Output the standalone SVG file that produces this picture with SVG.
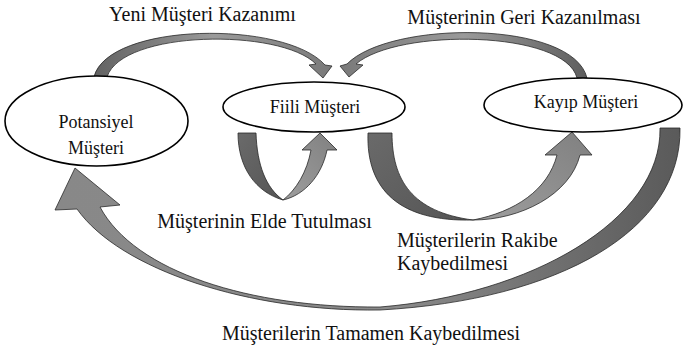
<svg xmlns="http://www.w3.org/2000/svg" width="685" height="347" viewBox="0 0 685 347">
<style>
.node{fill:#fff;stroke:#000;stroke-width:1.6}
.lbl{font-family:"Liberation Serif","Times New Roman",serif;font-size:20px;fill:#111}
.nt{font-family:"Liberation Serif","Times New Roman",serif;font-size:18px;fill:#111;text-anchor:middle}
.arr{stroke:#2a2a2a;stroke-width:0.8;stroke-linejoin:miter}
</style>
<defs>
<linearGradient id="gTop" x1="0" y1="0" x2="1" y2="0">
<stop offset="0" stop-color="#626262"/>
<stop offset="0.5" stop-color="#9a9a9a"/>
<stop offset="1" stop-color="#7a7a7a"/>
</linearGradient>
<linearGradient id="gTopR" x1="1" y1="0" x2="0" y2="0">
<stop offset="0" stop-color="#5e5e5e"/>
<stop offset="0.5" stop-color="#9a9a9a"/>
<stop offset="1" stop-color="#7a7a7a"/>
</linearGradient>
<linearGradient id="gBack" x1="0" y1="0" x2="1" y2="1">
<stop offset="0" stop-color="#6a6a6a"/>
<stop offset="1" stop-color="#555"/>
</linearGradient>
<linearGradient id="gFront" x1="0" y1="1" x2="1" y2="0">
<stop offset="0" stop-color="#9e9e9e"/>
<stop offset="1" stop-color="#808080"/>
</linearGradient>
<linearGradient id="gBig" x1="1" y1="0" x2="0" y2="0">
<stop offset="0" stop-color="#5a5a5a"/>
<stop offset="0.45" stop-color="#8a8a8a"/>
<stop offset="1" stop-color="#888"/>
</linearGradient>
</defs>
<g id="connectors">
<path id="yeni" class="arr" fill="url(#gTop)" d="M94,77 C108,22 285,20 325,65 L332,66 L323,78 L309,65 L316,64 C280,28 122,30 107,77 Z"/>
<path id="geri" class="arr" fill="url(#gTopR)" d="M587,78 C573,20 390,20 347,64 L340,66 L349,77 L363,65 L356,64 C398,28 565,30 577,78 Z"/>
<path id="elde-back" class="arr" fill="url(#gBack)" d="M238,133 L256,133 C257,165 266,188 283,200 C256,192 238,168 238,133 Z"/>
<path id="elde-front" class="arr" fill="url(#gFront)" d="M283,200 C305,195 322,175 327,150 L337,150 L320,133 L302,150 L311,150 C307,172 296,190 283,200 Z"/>
<path id="rakip-back" class="arr" fill="url(#gBack)" d="M368,133 L392,133 C392,180 412,212 473,220 C400,222 366,190 368,133 Z"/>
<path id="rakip-front" class="arr" fill="url(#gFront)" d="M473,220 C520,220 570,195 580,155 L592,155 L572,132 L545,155 L557,155 C548,190 515,212 473,220 Z"/>
<path id="tamamen" class="arr" fill="url(#gBig)" d="M680,128 C682,230 560,300 380,310 C250,312 120,270 77,209 L55,210 L75,168 L120,205 L100,207 C135,272 250,308 380,307 C530,295 662,220 660,128 Z"/>
</g>
<g id="potansiyel">
<ellipse class="node" cx="96.5" cy="121" rx="91.5" ry="45"/>
<text class="nt" x="96" y="128">Potansiyel</text>
<text class="nt" x="96" y="154">Müşteri</text>
</g>
<g id="fiili">
<ellipse class="node" cx="314" cy="107" rx="91" ry="25"/>
<text class="nt" x="315" y="113">Fiili Müşteri</text>
</g>
<g id="kayip">
<ellipse class="node" cx="583" cy="105" rx="99" ry="27"/>
<text class="nt" x="586" y="108">Kayıp Müşteri</text>
</g>
<g id="labels">
<text class="lbl" x="202.5" y="21" text-anchor="middle">Yeni Müşteri Kazanımı</text>
<text class="lbl" x="524" y="24" text-anchor="middle">Müşterinin Geri Kazanılması</text>
<text class="lbl" x="264.5" y="228" text-anchor="middle">Müşterinin Elde Tutulması</text>
<text class="lbl" x="397" y="247">Müşterilerin Rakibe</text>
<text class="lbl" x="397" y="270">Kaybedilmesi</text>
<text class="lbl" x="371" y="340" text-anchor="middle">Müşterilerin Tamamen Kaybedilmesi</text>
</g>
</svg>
